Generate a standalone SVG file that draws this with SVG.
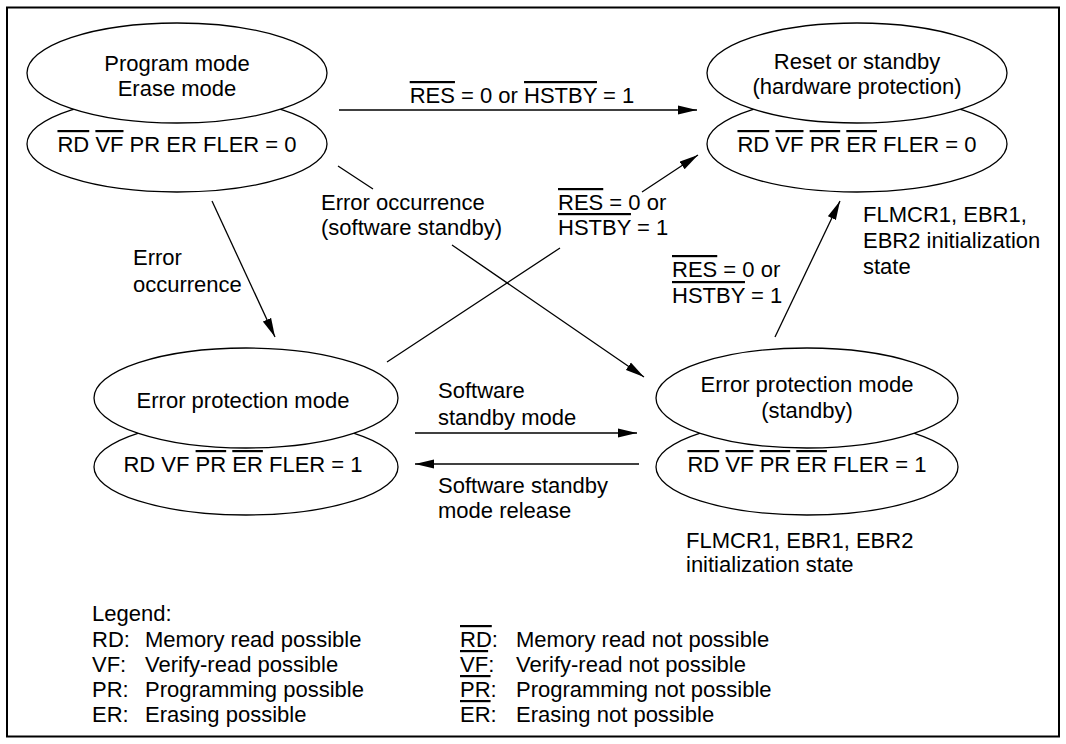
<svg xmlns="http://www.w3.org/2000/svg" width="1066" height="744" viewBox="0 0 1066 744">
<defs>
<marker id="ah" markerUnits="userSpaceOnUse" markerWidth="20" markerHeight="10" refX="19" refY="5" orient="auto"><path d="M0,0.5 L19,5 L0,9.5 z" fill="#000"/></marker>
<style>
text{font-family:"Liberation Sans",Arial,Helvetica,sans-serif;font-size:22px;fill:#000}
.c{text-anchor:middle}
.ov{text-decoration:overline}
ellipse{fill:#fff;stroke:#000;stroke-width:1.3}
.ln{fill:none;stroke:#000;stroke-width:1.3}
.arr{marker-end:url(#ah)}
</style>
</defs>
<rect x="0" y="0" width="1066" height="744" fill="#fff"/>
<rect x="7" y="7.5" width="1052" height="729" fill="none" stroke="#000" stroke-width="2"/>

<g id="node-program-erase">
<ellipse cx="177" cy="144" rx="150" ry="48"/>
<ellipse cx="177" cy="73" rx="150" ry="50"/>
<text class="c" x="177" y="71">Program mode</text>
<text class="c" x="177" y="96">Erase mode</text>
<text class="c" x="177" y="152"><tspan class="ov">RD</tspan> <tspan class="ov">VF</tspan> PR ER FLER = 0</text>
</g>

<g id="node-reset-standby">
<ellipse cx="857" cy="144" rx="150" ry="48"/>
<ellipse cx="857" cy="73" rx="150" ry="50"/>
<text class="c" x="857" y="69">Reset or standby</text>
<text class="c" x="857" y="94">(hardware protection)</text>
<text class="c" x="857" y="152"><tspan class="ov">RD</tspan> <tspan class="ov">VF</tspan> <tspan class="ov">PR</tspan> <tspan class="ov">ER</tspan> FLER = 0</text>
</g>

<g id="node-error-protection">
<ellipse cx="246" cy="467" rx="152" ry="48"/>
<ellipse cx="246" cy="398" rx="152" ry="50"/>
<text class="c" x="243" y="408">Error protection mode</text>
<text class="c" x="243" y="472">RD VF <tspan class="ov">PR</tspan> <tspan class="ov">ER</tspan> FLER = 1</text>
</g>

<g id="node-error-protection-standby">
<ellipse cx="807" cy="467" rx="151" ry="48"/>
<ellipse cx="807" cy="398" rx="151" ry="50"/>
<text class="c" x="807" y="392">Error protection mode</text>
<text class="c" x="807" y="418">(standby)</text>
<text class="c" x="807" y="472"><tspan class="ov">RD</tspan> <tspan class="ov">VF</tspan> <tspan class="ov">PR</tspan> <tspan class="ov">ER</tspan> FLER = 1</text>
</g>

<g id="connectors">
<path class="ln arr" d="M339,110 L697,110"/>
<path class="ln arr" d="M212,201 L275,337"/>
<path class="ln arr" d="M338,166 L373,189 M452,245 L644,377"/>
<path class="ln arr" d="M387,362 L560,248 M642,192 L698,155"/>
<path class="ln arr" d="M775,337 L840,201"/>
<path class="ln arr" d="M415,433 L637,433"/>
<path class="ln arr" d="M639,464 L415,464"/>
</g>

<g id="connector-labels">
<text class="c" x="522" y="103"><tspan class="ov">RES</tspan> = 0 or <tspan class="ov">HSTBY</tspan> = 1</text>
<text x="133" y="265">Error</text>
<text x="133" y="292">occurrence</text>
<text x="321" y="210">Error occurrence</text>
<text x="321" y="235">(software standby)</text>
<text x="558" y="210"><tspan class="ov">RES</tspan> = 0 or</text>
<text x="558" y="235"><tspan class="ov">HSTBY</tspan> = 1</text>
<text x="672" y="277"><tspan class="ov">RES</tspan> = 0 or</text>
<text x="672" y="303"><tspan class="ov">HSTBY</tspan> = 1</text>
<text x="438" y="398">Software</text>
<text x="438" y="425">standby mode</text>
<text x="438" y="493">Software standby</text>
<text x="438" y="518">mode release</text>
</g>

<g id="notes">
<text x="863" y="222">FLMCR1, EBR1,</text>
<text x="863" y="248">EBR2 initialization</text>
<text x="863" y="274">state</text>
<text x="686" y="548">FLMCR1, EBR1, EBR2</text>
<text x="686" y="572">initialization state</text>
</g>

<g id="legend">
<text x="92" y="621">Legend:</text>
<text x="92" y="647">RD:</text><text x="145" y="647">Memory read possible</text>
<text x="92" y="672">VF:</text><text x="145" y="672">Verify-read possible</text>
<text x="92" y="697">PR:</text><text x="145" y="697">Programming possible</text>
<text x="92" y="722">ER:</text><text x="145" y="722">Erasing possible</text>
<text x="460" y="647"><tspan class="ov">RD</tspan>:</text><text x="516" y="647">Memory read not possible</text>
<text x="460" y="672"><tspan class="ov">VF</tspan>:</text><text x="516" y="672">Verify-read not possible</text>
<text x="460" y="697"><tspan class="ov">PR</tspan>:</text><text x="516" y="697">Programming not possible</text>
<text x="460" y="722"><tspan class="ov">ER</tspan>:</text><text x="516" y="722">Erasing not possible</text>
</g>
</svg>
